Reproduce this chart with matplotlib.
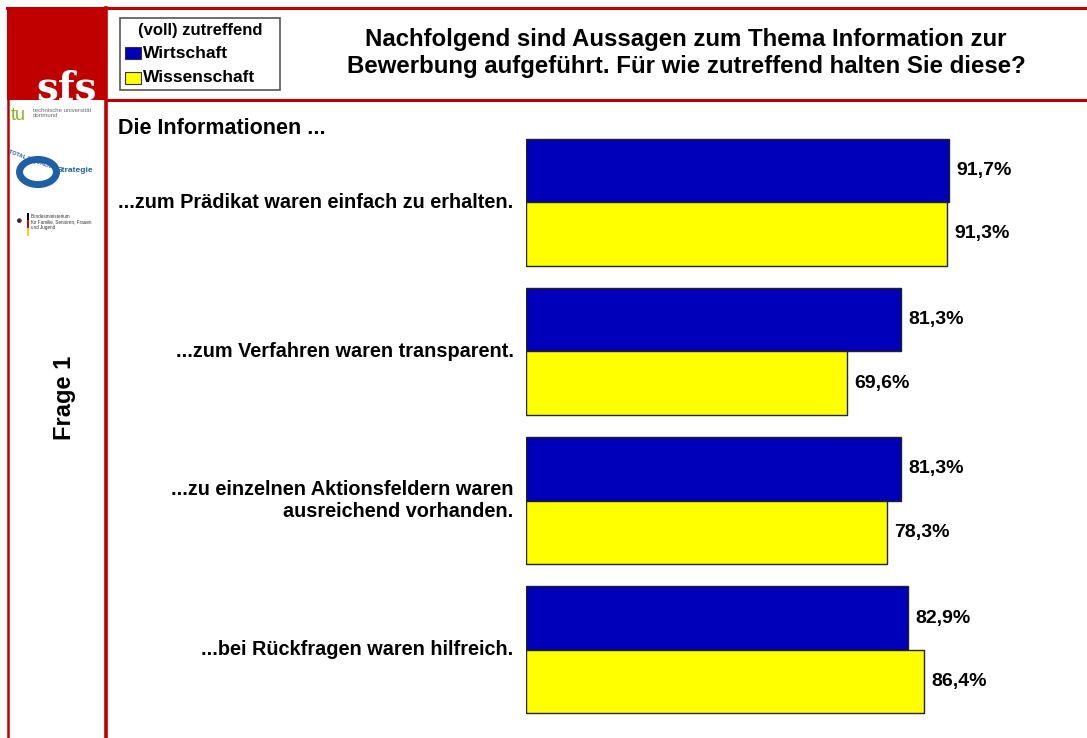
import matplotlib
matplotlib.use("Agg")
import matplotlib.pyplot as plt
from matplotlib.patches import Rectangle
from matplotlib.lines import Line2D

plt.rcParams['font.family'] = ['Liberation Sans', 'DejaVu Sans']

# Data
categories = [
    "...zum Prädikat waren einfach zu erhalten.",
    "...zum Verfahren waren transparent.",
    "...zu einzelnen Aktionsfeldern waren\nausreichend vorhanden.",
    "...bei Rückfragen waren hilfreich.",
]
wirtschaft = [91.7, 81.3, 81.3, 82.9]
wissenschaft = [91.3, 69.6, 78.3, 86.4]
series_names = ["Wirtschaft", "Wissenschaft"]
legend_title = "(voll) zutreffend"

W, H = 1087, 738
RED = "#C00000"
BLUE = "#0000BB"
YELLOW = "#FFFF00"

fig = plt.figure(figsize=(W / 100, H / 100), dpi=100)


def fx(x):
    return x / W


def fy(y):
    return 1 - y / H


def line(x0, y0, x1, y1, lw, color=RED):
    fig.add_artist(Line2D([fx(x0), fx(x1)], [fy(y0), fy(y1)], lw=lw, color=color,
                          transform=fig.transFigure))


def rect(x0, y0, x1, y1, fc, ec="none", lw=0):
    fig.add_artist(Rectangle((fx(x0), fy(y1)), fx(x1) - fx(x0), fy(y0) - fy(y1),
                             facecolor=fc, edgecolor=ec, lw=lw, transform=fig.transFigure))


# frame
rect(7, 7, 106, 100, RED)
rect(10, 101, 104, 738, "white")
line(7, 8, 1087, 8, 2.2)
line(106, 99.5, 1087, 99.5, 2.2)
line(8, 8, 8, 738, 1.8)
line(106, 8, 106, 738, 2.6)

# sfs logo text
fig.text(fx(67), fy(99), "sfs", color="white", fontsize=28, fontweight="bold",
         family="DejaVu Serif", ha="center", va="baseline")

# small logos (text approximations)
fig.text(fx(11), fy(116), "tu", color="#84B819", fontsize=13, ha="left", va="center")
fig.text(fx(33), fy(113), "technische universität\ndortmund", color="#666666", fontsize=4.3,
         ha="left", va="center", linespacing=1.0)
fig.text(fx(32), fy(160), "TOTAL E-QUALITY", color="#1F5FA8", fontsize=4, fontweight="bold",
         ha="center", va="center", rotation=-20)
fig.add_artist(plt.Circle((fx(38), fy(172)), 0.017, transform=fig.transFigure,
                          facecolor="none", edgecolor="#1F5FA8", lw=5))
fig.text(fx(75), fy(171), "Strategie", color="#1F5FA8", fontsize=6, fontweight="bold",
         ha="center", va="center")
fig.text(fx(18), fy(221), "●", color="#333333", fontsize=8, ha="center", va="center")
rect(27, 213, 28.5, 220, "black")
rect(27, 220, 28.5, 228, "#DD0000")
rect(27, 228, 28.5, 236, "#FFCC00")
fig.text(fx(31), fy(222), "Bundesministerium\nfür Familie, Senioren, Frauen\nund Jugend",
         color="#333333", fontsize=3.3, ha="left", va="center", linespacing=1.0)

# side label
fig.text(fx(64), fy(398), "Frage 1", fontsize=17, fontweight="bold", rotation=90,
         ha="center", va="center")

# legend box
rect(120, 18, 280, 90, "white", ec="#555555", lw=1.2)
fig.text(fx(200), fy(31), legend_title, fontsize=12, fontweight="bold", ha="center", va="center")
for k, (name, col) in enumerate(zip(series_names, [BLUE, YELLOW])):
    yc = 53 + k * 25
    rect(125, yc - 6, 141, yc + 6, col, ec="#333333", lw=0.8)
    fig.text(fx(143), fy(yc), name, fontsize=12.5, fontweight="bold", ha="left", va="center")

# title
fig.text(fx(686), fy(53), "Nachfolgend sind Aussagen zum Thema Information zur\n"
         "Bewerbung aufgeführt. Für wie zutreffend halten Sie diese?",
         fontsize=17.3, fontweight="bold", ha="center", va="center", linespacing=1.2)

fig.text(fx(118), fy(128), "Die Informationen ...", fontsize=15.5, fontweight="bold",
         ha="left", va="center")

# bar chart
ax = fig.add_axes([fx(526), fy(724.5), fx(1079) - fx(526), fy(127.5) - fy(724.5)])
ax.set_xlim(0, 120)
ax.set_ylim(3.5, -0.5)
ax.axis("off")

h = 0.426
pos = list(range(len(categories)))
ax.barh([p - h / 2 for p in pos], wirtschaft, height=h, color=BLUE, edgecolor="#222222", lw=1)
ax.barh([p + h / 2 for p in pos], wissenschaft, height=h, color=YELLOW, edgecolor="#222222", lw=1)

for p, a, b in zip(pos, wirtschaft, wissenschaft):
    ax.annotate(f"{a:.1f}%".replace(".", ","), (a, p - h / 2), xytext=(5.5, 0),
                textcoords="offset points", ha="left", va="center",
                fontsize=14, fontweight="bold")
    ax.annotate(f"{b:.1f}%".replace(".", ","), (b, p + h / 2), xytext=(5.5, 0),
                textcoords="offset points", ha="left", va="center",
                fontsize=14, fontweight="bold")
    ax.annotate(categories[p], (0, p), xytext=(-9, 0), textcoords="offset points",
                ha="right", va="center", fontsize=14.3, fontweight="bold",
                multialignment="right", linespacing=1.2, annotation_clip=False)

fig.savefig("out.png", dpi=100)
